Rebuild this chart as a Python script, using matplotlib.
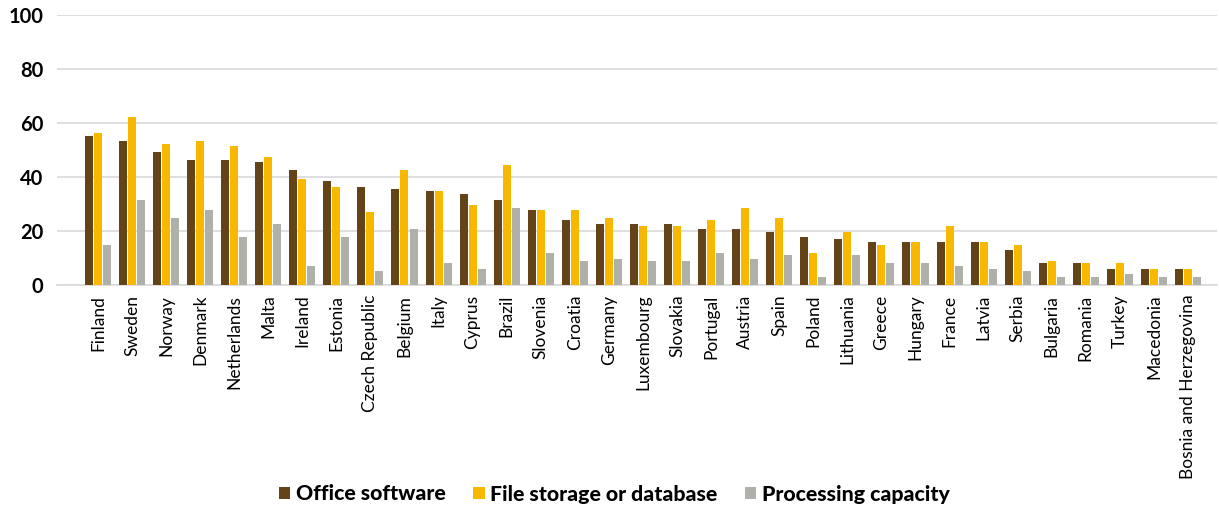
import matplotlib
matplotlib.use("Agg")
import matplotlib.pyplot as plt
import numpy as np

countries = ["Finland", "Sweden", "Norway", "Denmark", "Netherlands", "Malta",
             "Ireland", "Estonia", "Czech Republic", "Belgium", "Italy", "Cyprus",
             "Brazil", "Slovenia", "Croatia", "Germany", "Luxembourg", "Slovakia",
             "Portugal", "Austria", "Spain", "Poland", "Lithuania", "Greece",
             "Hungary", "France", "Latvia", "Serbia", "Bulgaria", "Romania",
             "Turkey", "Macedonia", "Bosnia and Herzegovina"]

office_software = [55.3, 53.4, 49.3, 46.4, 46.4, 45.6, 42.6, 38.6, 36.3, 35.6, 34.9,
                   33.7, 31.5, 27.8, 24.1, 22.6, 22.6, 22.6, 20.8, 20.8, 19.7, 17.8,
                   17.1, 15.9, 15.9, 15.9, 15.9, 13.0, 8.2, 8.2, 5.9, 5.9, 5.9]
file_storage = [56.4, 62.3, 52.3, 53.4, 51.5, 47.5, 39.3, 36.3, 27.1, 42.6, 34.9,
                29.7, 44.5, 27.8, 27.8, 24.8, 21.9, 21.9, 24.1, 28.6, 24.8, 11.9,
                19.7, 14.8, 15.9, 21.9, 15.9, 14.8, 8.9, 8.2, 8.2, 5.9, 5.9]
processing_capacity = [14.8, 31.5, 24.8, 27.8, 17.8, 22.6, 7.0, 17.8, 5.2, 20.8, 8.2,
                       5.9, 28.6, 11.9, 8.9, 9.6, 8.9, 8.9, 11.9, 9.6, 11.1, 3.0,
                       11.1, 8.2, 8.2, 7.0, 5.9, 5.2, 3.0, 3.0, 4.1, 3.0, 3.0]

series = [("Office software", office_software, "#654318"),
          ("File storage or database", file_storage, "#F9B800"),
          ("Processing capacity", processing_capacity, "#ADB1AA")]

yticks = [0, 20, 40, 60, 80, 100]

fig = plt.figure(figsize=(12.19, 5.07), dpi=100)
ax = fig.add_axes([57 / 1219, 1 - 285 / 507, 1160 / 1219, 270 / 507])

x = np.arange(len(countries))
width = 0.235
step = 0.265
for i, (name, vals, color) in enumerate(series):
    ax.bar(x + (i - 1) * step, vals, width=width, color=color, label=name, zorder=3)

ax.set_ylim(0, 100)
ax.set_xlim(-1.2, len(countries) - 1 + 0.85)
ax.set_yticks(yticks)
ax.set_yticklabels([str(t) for t in yticks], fontsize=14.5, fontweight="bold",
                   family="Lato")
ax.grid(axis="y", color="#D9D9D9", linewidth=1.2, zorder=0)
ax.tick_params(axis="y", length=0, pad=10)
ax.tick_params(axis="x", length=0, pad=7)
ax.set_xticks(x)
ax.set_xticklabels(countries, rotation=90, fontsize=12.5, family="Lato")
for s in ["top", "right", "left"]:
    ax.spines[s].set_visible(False)
ax.spines["bottom"].set_color("#D9D9D9")
ax.spines["bottom"].set_linewidth(1.2)

leg = fig.legend(loc="center", bbox_to_anchor=(614 / 1219, 1 - 494 / 507), ncol=3,
                 frameon=False, handlelength=0.55, handleheight=0.55,
                 handletextpad=0.25, columnspacing=1.3,
                 prop={"family": "Lato", "weight": "black", "size": 15.3})

fig.savefig("out.png", dpi=100)
